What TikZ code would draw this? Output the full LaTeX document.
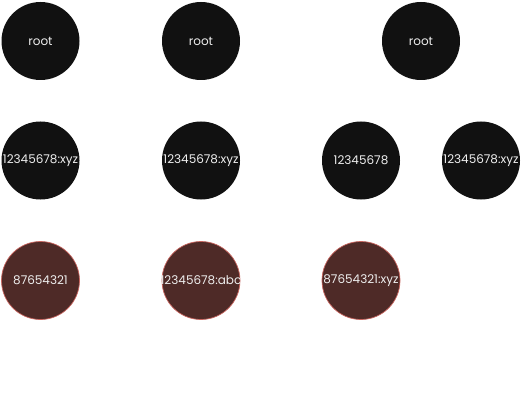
\documentclass[tikz,border=0pt]{standalone}
\usepackage{fontspec}
\setmainfont{Poppins}
\definecolor{nodeblack}{HTML}{111111}
\definecolor{nodered}{HTML}{4E2A27}
\definecolor{redline}{HTML}{C8645E}
\definecolor{txt}{HTML}{EEEEEE}
\newcommand{\fixw}[1]{\makebox[0pt]{#1}}
\begin{document}
\begin{tikzpicture}[x=1pt,y=-1pt,
  tnode/.style={circle,fill=nodeblack,minimum size=78pt,inner sep=0pt,text=txt,font=\fontsize{12}{14}\selectfont},
  rnode/.style={tnode,fill=nodered,draw=redline,line width=0.7pt}]
\useasboundingbox[fill=white] (0,0) rectangle (522,401);
\node[tnode] (r1) at (40.5,41) {root};
\node[tnode] (r2) at (201,41) {root};
\node[tnode] (r3) at (421,41) {root};
\node[tnode] (a1) at (40.5,160.5) {\fixw{12345678:xyz}};
\node[tnode] (a2) at (201,160.5) {\fixw{12345678:xyz}};
\node[tnode] (a3) at (361,160.5) {12345678};
\node[tnode] (a4) at (481,160.5) {\fixw{12345678:xyz}};
\node[rnode] (b1) at (40.5,280.5) {87654321};
\node[rnode] (b2) at (201,280.5) {\fixw{12345678:abc}};
\node[rnode] (b3) at (361,280.5) {\fixw{87654321:xyz}};
\end{tikzpicture}
\end{document}
